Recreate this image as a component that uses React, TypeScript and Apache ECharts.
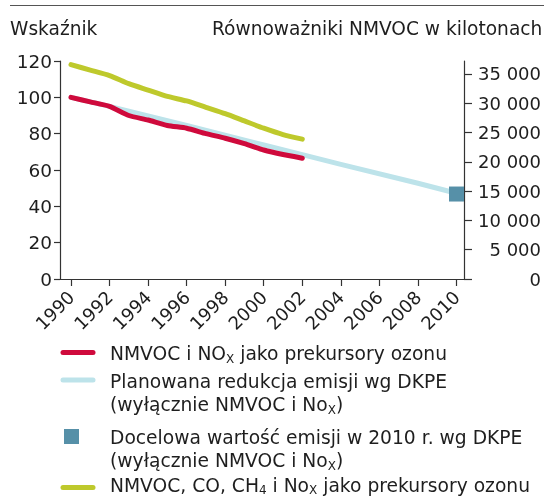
import { useEffect, useRef } from "react";
import * as echarts from "echarts";

const FONT = "DejaVu Sans";
const TEXT = "#1e1e1e";

// Data
const years = [1990, 1991, 1992, 1993, 1994, 1995, 1996, 1997, 1998, 1999, 2000, 2001, 2002];
const nmvocNox = [100, 97.5, 95, 90, 87.5, 84.5, 83, 80, 77.5, 74.5, 71, 68.5, 66.5];
const nmvocCoCh4Nox = [118, 115, 112, 107.5, 104, 100.5, 98, 94.5, 91, 87, 83, 79.5, 77];
const planYears = [1990, 1992, 1996, 2000, 2004, 2008, 2010];
const plannedReduction = [100, 95, 84.5, 73.8, 63.1, 52.7, 47.2];
const targetYear = 2010;
const targetKt = 14500;

const xTickYears = [1990, 1992, 1994, 1996, 1998, 2000, 2002, 2004, 2006, 2008, 2010];
const leftTicks = [0, 20, 40, 60, 80, 100, 120];
const rightTicks = [0, 5000, 10000, 15000, 20000, 25000, 30000, 35000];

const leftTitle = "Wskaźnik";
const rightTitle = "Równoważniki NMVOC w kilotonach";

const RED = "#cf0a3c";
const BLUE = "#bde3ea";
const GREEN = "#bec92c";
const SQUARE = "#5690a8";

const fmtThousands = (v: number) => String(v).replace(/\B(?=(\d{3})+(?!\d))/g, " ");

export default function App() {
  const ref = useRef<HTMLDivElement>(null);
  useEffect(() => {
    if (!ref.current) return;
    const chart = echarts.init(ref.current, undefined, { renderer: "svg" });
    const LF = 18.7;
    const makeRich = (lh: number, slh: number) => ({
      a: { fontSize: LF, fontFamily: FONT, fill: TEXT, lineHeight: lh },
      s: { fontSize: 12, fontFamily: FONT, fill: TEXT, lineHeight: slh, verticalAlign: "bottom" },
    });
    const legText = (x: number, y: number, text: string, lh = 23, slh = 12) => ({
      type: "text",
      x,
      y,
      silent: true,
      style: {
        text,
        rich: makeRich(lh, slh),
        fill: TEXT,
        font: `${LF}px "${FONT}"`,
        textVerticalAlign: "middle",
        verticalAlign: "middle",
      },
    });
    const legLine = (y: number, color: string) => ({
      type: "line",
      silent: true,
      shape: { x1: 63, y1: y, x2: 93, y2: y },
      style: { stroke: color, lineWidth: 5, lineCap: "round" },
    });
    chart.setOption({
      animation: false,
      grid: { left: 60, right: 80, top: 61, bottom: 217 },
      xAxis: {
        type: "value",
        min: 1989.43,
        max: 2010.39,
        splitLine: { show: false },
        axisLine: { show: true, lineStyle: { color: "#333", width: 1.2 } },
        axisTick: { show: true, customValues: xTickYears, length: 7, lineStyle: { color: "#333", width: 1.2 } },
        axisLabel: {
          customValues: xTickYears,
          rotate: 45,
          margin: 15,
          fontSize: 18,
          fontFamily: FONT,
          color: TEXT,
          formatter: (v: number) => String(v),
        },
      },
      yAxis: [
        {
          type: "value",
          position: "left",
          min: 0,
          max: 120,
          interval: 20,
          splitLine: { show: false },
          axisLine: { show: true, lineStyle: { color: "#333", width: 1.2 } },
          axisTick: { show: true, length: 6, lineStyle: { color: "#333", width: 1.2 } },
          axisLabel: { margin: 8, fontSize: 18.5, fontFamily: FONT, color: TEXT, customValues: leftTicks },
        },
        {
          type: "value",
          position: "right",
          min: 0,
          max: 37200,
          splitLine: { show: false },
          axisLine: { show: true, lineStyle: { color: "#333", width: 1.2 } },
          axisTick: { show: true, customValues: rightTicks, length: 8, lineStyle: { color: "#333", width: 1.2 } },
          axisLabel: {
            customValues: rightTicks,
            align: "right",
            margin: 77,
            fontSize: 18,
            fontFamily: FONT,
            color: TEXT,
            formatter: (v: number) => fmtThousands(v),
          },
        },
      ],
      series: [
        {
          type: "line",
          name: "Planowana redukcja emisji wg DKPE",
          data: planYears.map((y, i) => [y, plannedReduction[i]]),
          showSymbol: false,
          lineStyle: { color: BLUE, width: 5, cap: "round", join: "round" },
          z: 1,
        },
        {
          type: "line",
          name: "NMVOC i NOx jako prekursory ozonu",
          data: years.map((y, i) => [y, nmvocNox[i]]),
          showSymbol: false,
          smooth: 0.2,
          lineStyle: { color: RED, width: 5, cap: "round", join: "round" },
          z: 3,
        },
        {
          type: "line",
          name: "NMVOC, CO, CH4 i NOx jako prekursory ozonu",
          data: years.map((y, i) => [y, nmvocCoCh4Nox[i]]),
          showSymbol: false,
          smooth: 0.2,
          lineStyle: { color: GREEN, width: 5, cap: "round", join: "round" },
          z: 3,
        },
        {
          type: "scatter",
          name: "Docelowa wartość emisji w 2010 r. wg DKPE",
          yAxisIndex: 1,
          data: [[targetYear, targetKt]],
          symbol: "rect",
          symbolSize: 15,
          itemStyle: { color: SQUARE, opacity: 1 },
          z: 4,
        },
      ],
      graphic: [
        {
          type: "line",
          silent: true,
          shape: { x1: 10, y1: 5.5, x2: 544, y2: 5.5 },
          style: { stroke: "#555", lineWidth: 1.2 },
        },
        {
          type: "text",
          x: 10,
          y: 28,
          silent: true,
          style: { text: leftTitle, fill: TEXT, font: `18.6px "${FONT}"`, textVerticalAlign: "middle", verticalAlign: "middle" },
        },
        {
          type: "text",
          x: 212,
          y: 28,
          silent: true,
          style: { text: rightTitle, fill: TEXT, font: `18.6px "${FONT}"`, textVerticalAlign: "middle", verticalAlign: "middle" },
        },
        legLine(352.5, RED),
        legText(110, 353, "{a|NMVOC i NO}{s|X}{a| jako prekursory ozonu}"),
        legLine(380, BLUE),
        legText(110, 381, "{a|Planowana redukcja emisji wg DKPE}"),
        legText(110, 404, "{a|(wyłącznie NMVOC i No}{s|X}{a|)}"),
        {
          type: "rect",
          silent: true,
          shape: { x: 64, y: 429, width: 15, height: 15 },
          style: { fill: SQUARE },
        },
        legText(110, 437, "{a|Docelowa wartość emisji w 2010 r. wg DKPE}"),
        legText(110, 460, "{a|(wyłącznie NMVOC i No}{s|X}{a|)}"),
        legLine(487.5, GREEN),
        legText(110, 485, "{a|NMVOC, CO, CH}{s|4}{a| i No}{s|X}{a| jako prekursory ozonu}", 21, 12),
      ],
    });
    return () => chart.dispose();
  }, []);
  return <div ref={ref} style={{ position: "fixed", left: 0, top: 0, width: 544, height: 496 }} />;
}
